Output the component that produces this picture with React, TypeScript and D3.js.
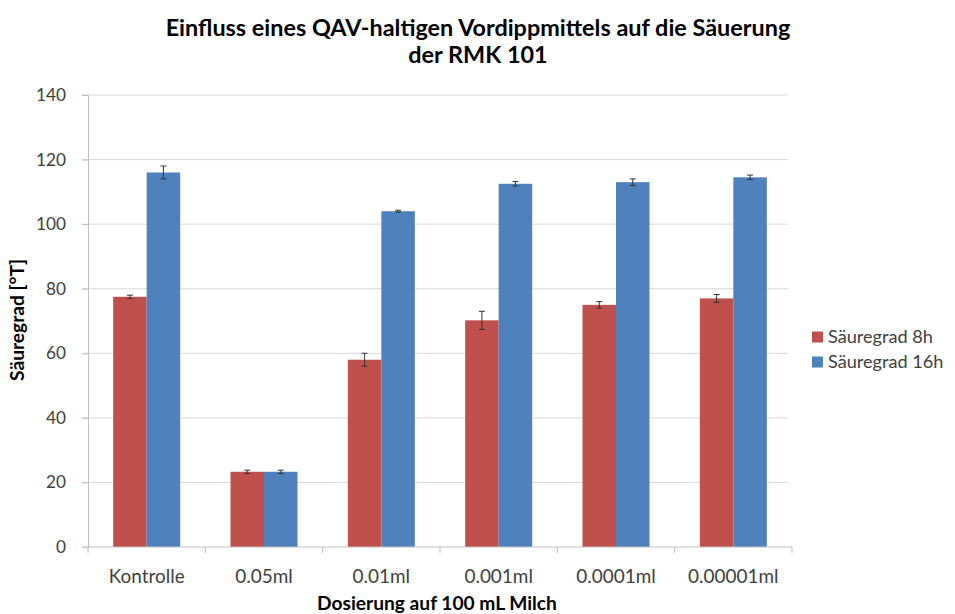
import React, { useEffect, useRef } from 'react';
import * as d3 from 'd3';

const categories = ['Kontrolle', '0.05ml', '0.01ml', '0.001ml', '0.0001ml', '0.00001ml'];
const seriesNames = ['Säuregrad 8h', 'Säuregrad 16h'];
const values8h = [77.5, 23.3, 58, 70.2, 75, 77];
const values16h = [116, 23.3, 104, 112.5, 113, 114.5];
const errors8h = [0.5, 0.5, 2, 2.8, 1, 1.2];
const errors16h = [2, 0.5, 0.3, 0.7, 1, 0.7];
const yTicks = [0, 20, 40, 60, 80, 100, 120, 140];

const colors = ['#C0504D', '#4F81BD'];

// scale a text's font size so that it is as wide as in the reference
const fitSize = (node: SVGTextElement | null, base: number, target: number) => {
  if (!node) return base;
  const w = node.getComputedTextLength();
  return w > 0 ? base * target / w : base;
};

const App: React.FC = () => {
  const svgRef = useRef<SVGSVGElement>(null);

  useEffect(() => {
    if (!svgRef.current) return;
    const svg = d3.select(svgRef.current);
    svg.selectAll('*').remove();

    const font = "Lato, 'Open Sans', sans-serif";
    const left = 88;
    const right = 792;
    const top = 95;
    const bottom = 547;

    const x = d3.scaleBand<string>().domain(categories).range([left, right]).padding(0);
    const y = d3.scaleLinear().domain([0, 140]).range([bottom, top]);
    const barW = 33.5;

    // Title
    const title = svg.append('text')
      .attr('text-anchor', 'middle')
      .attr('font-family', font)
      .attr('font-weight', 'bold')
      .attr('font-size', 20)
      .attr('fill', '#000');
    const t1 = title.append('tspan').attr('x', 478).attr('y', 36).text('Einfluss eines QAV-haltigen Vordippmittels auf die Säuerung');
    title.append('tspan').attr('x', 478).attr('y', 63).text('der RMK 101');
    title.attr('font-size', fitSize(t1.node() as any, 20, 625));

    // Gridlines
    svg.append('g')
      .selectAll('line')
      .data(yTicks.filter(t => t > 0))
      .enter().append('line')
      .attr('x1', left - 6)
      .attr('x2', right - 4)
      .attr('y1', d => y(d))
      .attr('y2', d => y(d))
      .attr('stroke', '#d9d9d9')
      .attr('stroke-width', 1);

    // Y axis
    const yAxis = svg.append('g')
      .attr('transform', `translate(${left},0)`)
      .call(d3.axisLeft(y).tickValues(yTicks).tickSize(6).tickPadding(16));
    yAxis.select('.domain').attr('stroke', '#bfbfbf');
    yAxis.selectAll('.tick line').attr('stroke', '#bfbfbf');
    const yLabels = yAxis.selectAll<SVGTextElement, number>('.tick text')
      .attr('font-family', font)
      .attr('font-size', 16)
      .attr('fill', '#404040');
    const yl = yLabels.filter(d => d === 140).node();
    yLabels.attr('font-size', fitSize(yl, 16, 30));

    // Bars
    const series = [values8h, values16h];
    const errs = [errors8h, errors16h];
    series.forEach((vals, si) => {
      const g = svg.append('g');
      g.selectAll('rect')
        .data(vals)
        .enter().append('rect')
        .attr('x', (d, i) => (x(categories[i]) as number) + x.bandwidth() / 2 - barW + si * barW)
        .attr('width', barW)
        .attr('y', d => y(d))
        .attr('height', d => y(0) - y(d))
        .attr('fill', colors[si]);

      const eb = svg.append('g').attr('stroke', '#333').attr('stroke-width', 1);
      vals.forEach((v, i) => {
        const cx = (x(categories[i]) as number) + x.bandwidth() / 2 - barW / 2 + si * barW;
        const e = errs[si][i];
        eb.append('line').attr('x1', cx).attr('x2', cx).attr('y1', y(v + e)).attr('y2', y(v - e));
        eb.append('line').attr('x1', cx - 3).attr('x2', cx + 3).attr('y1', y(v + e)).attr('y2', y(v + e));
        eb.append('line').attr('x1', cx - 3).attr('x2', cx + 3).attr('y1', y(v - e)).attr('y2', y(v - e));
      });
    });

    // X axis
    const xAxis = svg.append('g')
      .attr('transform', `translate(0,${bottom})`);
    xAxis.append('line')
      .attr('x1', left - 6).attr('x2', right)
      .attr('stroke', '#bfbfbf');
    xAxis.selectAll('line.tk')
      .data([...categories.map(c => x(c) as number), right])
      .enter().append('line')
      .attr('class', 'tk')
      .attr('x1', d => d).attr('x2', d => d)
      .attr('y1', 0).attr('y2', 6)
      .attr('stroke', '#bfbfbf');
    const xLabels = xAxis.selectAll<SVGTextElement, string>('text')
      .data(categories)
      .enter().append('text')
      .attr('x', d => (x(d) as number) + x.bandwidth() / 2)
      .attr('y', 36)
      .attr('text-anchor', 'middle')
      .attr('font-family', font)
      .attr('font-size', 16)
      .attr('fill', '#404040')
      .text(d => d);
    xLabels.attr('font-size', fitSize(xLabels.filter(d => d === 'Kontrolle').node(), 16, 76));

    // Axis titles
    const xt = svg.append('text')
      .attr('x', 437)
      .attr('y', 610)
      .attr('text-anchor', 'middle')
      .attr('font-family', font)
      .attr('font-weight', 'bold')
      .attr('font-size', 16)
      .text('Dosierung auf 100 mL Milch');
    xt.attr('font-size', fitSize(xt.node(), 16, 240));

    const yt = svg.append('text')
      .attr('transform', 'translate(24,320) rotate(-90)')
      .attr('text-anchor', 'middle')
      .attr('font-family', font)
      .attr('font-weight', 'bold')
      .attr('font-size', 14)
      .text('Säuregrad [°T]');
    yt.attr('font-size', fitSize(yt.node(), 14, 122));

    // Legend
    const legend = svg.append('g')
      .selectAll('g')
      .data(seriesNames)
      .enter().append('g')
      .attr('transform', (d, i) => `translate(812,${337 + i * 25})`);
    legend.append('rect')
      .attr('width', 11)
      .attr('height', 11)
      .attr('y', -5.5)
      .attr('fill', (d, i) => colors[i]);
    const legText = legend.append('text')
      .attr('x', 16)
      .attr('y', 6)
      .attr('font-family', font)
      .attr('font-size', 16)
      .attr('fill', '#404040')
      .text(d => d);
    legText.attr('font-size', fitSize(legText.filter(d => d === 'Säuregrad 8h').node(), 16, 105));
  }, []);

  return (
    <svg ref={svgRef} width={955} height={614} style={{ position: 'absolute', left: 0, top: 0, background: '#fff' }} />
  );
};

export default App;
